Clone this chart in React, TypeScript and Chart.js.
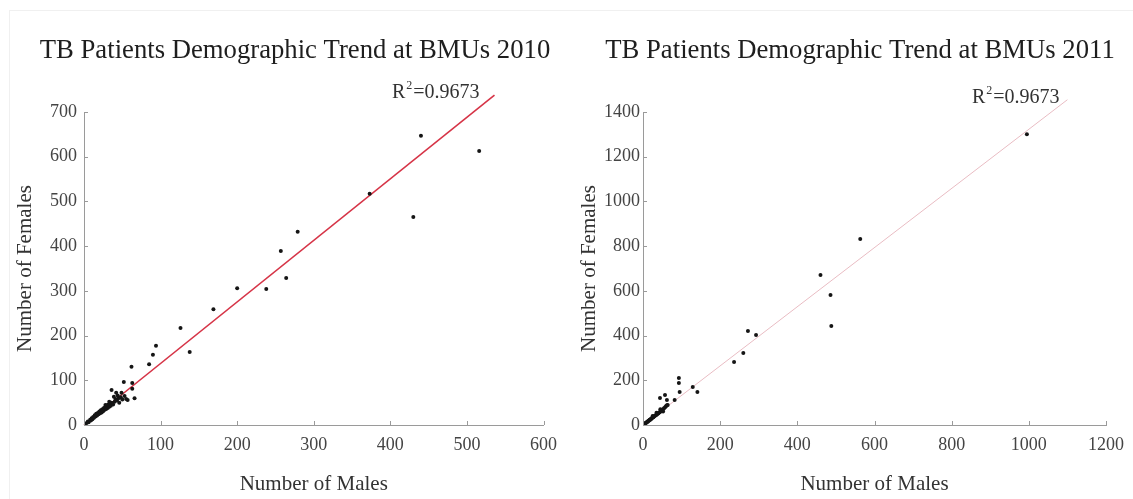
import React, { useEffect, useRef } from "react";
import { Chart, registerables } from "chart.js";

Chart.register(...registerables);

// ---------- 2010 data ----------
const males2010 = [
  516, 440, 430, 373, 279, 264, 257, 238, 200, 169, 138, 126, 94, 90, 85, 62, 52, 63, 63, 66, 57, 36, 42, 49,
  3, 5, 6, 8, 9, 10, 11, 12, 13, 14, 15, 16, 17, 18, 19, 20, 21, 22, 23, 24, 25, 26, 27, 28, 29, 30, 31, 32,
  33, 34, 35, 36, 38, 40, 41, 43, 45, 46, 48, 50, 53, 55, 28, 33, 39, 44,
];
const females2010 = [
  613, 647, 465, 517, 432, 329, 389, 304, 306, 259, 163, 217, 177, 157, 136, 130, 96, 94, 81, 60, 56, 78, 72, 72,
  4, 8, 6, 12, 10, 15, 13, 18, 16, 22, 19, 25, 21, 27, 24, 30, 26, 33, 28, 35, 31, 38, 34, 40, 36, 44, 38, 46,
  41, 48, 43, 50, 46, 52, 58, 55, 60, 50, 62, 57, 65, 58, 45, 52, 63, 66,
];
const trendX2010 = [0, 536];
const trendY2010 = [0, 738];
const xTicks2010 = [0, 100, 200, 300, 400, 500, 600];
const yTicks2010 = [0, 100, 200, 300, 400, 500, 600, 700];

// ---------- 2011 data ----------
const males2011 = [
  995, 563, 460, 486, 488, 272, 293, 260, 236, 141, 129, 93, 93, 95, 82, 57, 44, 62,
  2, 4, 5, 7, 8, 10, 11, 13, 14, 16, 17, 19, 20, 22, 23, 25, 27, 28, 30, 32, 34, 36, 38, 40, 42, 44, 46, 48,
  50, 53, 55, 58, 60, 62, 64, 35, 45, 25, 52,
];
const females2011 = [
  1301, 832, 671, 581, 443, 420, 402, 322, 282, 148, 170, 210, 188, 148, 112, 134, 121, 112,
  3, 5, 7, 9, 10, 12, 15, 16, 19, 20, 23, 24, 27, 28, 31, 33, 35, 38, 40, 42, 45, 47, 50, 53, 56, 58, 62, 65,
  68, 72, 76, 80, 85, 88, 90, 55, 70, 40, 60,
];
const trendX2011 = [0, 1100];
const trendY2011 = [0, 1455];
const xTicks2011 = [0, 200, 400, 600, 800, 1000, 1200];
const yTicks2011 = [0, 200, 400, 600, 800, 1000, 1200, 1400];

const R2_TEXT = "=0.9673";
const SERIF = "'Liberation Serif', 'Times New Roman', serif";

const decorPlugin = {
  id: "decor",
  afterDraw(chart: any, _args: any, opts: any) {
    const { ctx } = chart;
    const x = chart.scales.x;
    const y = chart.scales.y;
    ctx.save();
    // inward tick marks
    ctx.strokeStyle = "#9a9a9a";
    ctx.lineWidth = 1;
    x.ticks.forEach((t: any) => {
      const px = Math.round(x.getPixelForValue(t.value)) + 0.5;
      ctx.beginPath();
      ctx.moveTo(px, y.bottom);
      ctx.lineTo(px, y.bottom - 4);
      ctx.stroke();
    });
    y.ticks.forEach((t: any) => {
      const py = Math.round(y.getPixelForValue(t.value)) + 0.5;
      ctx.beginPath();
      ctx.moveTo(x.left, py);
      ctx.lineTo(x.left + 4, py);
      ctx.stroke();
    });
    // title
    ctx.fillStyle = "#1e1e1e";
    ctx.font = `26.7px ${SERIF}`;
    ctx.textAlign = "center";
    ctx.textBaseline = "alphabetic";
    ctx.fillText(opts.title, opts.titleX, opts.titleY);
    // R^2 label
    ctx.fillStyle = "#333";
    ctx.textAlign = "left";
    ctx.font = `20px ${SERIF}`;
    ctx.fillText("R", opts.rx, opts.ry);
    const wR = ctx.measureText("R").width;
    ctx.font = `12px ${SERIF}`;
    ctx.fillText("2", opts.rx + wR + 1, opts.ry - 9);
    const w2 = ctx.measureText("2").width;
    ctx.font = `20px ${SERIF}`;
    ctx.fillText(R2_TEXT, opts.rx + wR + w2 + 2, opts.ry);
    ctx.restore();
  },
};

type Cfg = {
  width: number;
  males: number[];
  females: number[];
  trendX: number[];
  trendY: number[];
  xTicks: number[];
  yTicks: number[];
  yAxisWidth: number;
  padRight: number;
  yLabelPad: number;
  yTitlePad: number;
  lineColor: string;
  lineWidth: number;
  title: string;
  titleX: number;
  rx: number;
  ry: number;
};

function makeConfig(c: Cfg): any {
  const tickFont = { family: SERIF, size: 18 };
  const titleFont = { family: SERIF, size: 21 };
  return {
    type: "scatter",
    data: {
      datasets: [
        {
          data: c.males.map((m, i) => ({ x: m, y: c.females[i] })),
          backgroundColor: "#151515",
          borderColor: "#151515",
          pointRadius: 2,
          pointBorderWidth: 0,
        },
        {
          data: c.trendX.map((v, i) => ({ x: v, y: c.trendY[i] })),
          showLine: true,
          pointRadius: 0,
          borderColor: c.lineColor,
          borderWidth: c.lineWidth,
          clip: false,
        },
      ],
    },
    options: {
      animation: false,
      responsive: false,
      events: [],
      layout: { padding: { left: 0, right: c.padRight, top: 112, bottom: 0 } },
      plugins: {
        legend: { display: false },
        tooltip: { enabled: false },
        decor: { title: c.title, titleX: c.titleX, titleY: 58, rx: c.rx, ry: c.ry },
      },
      scales: {
        x: {
          type: "linear",
          min: c.xTicks[0],
          max: c.xTicks[c.xTicks.length - 1],
          grid: { display: false, drawTicks: false },
          border: { display: true, color: "#9a9a9a", width: 1 },
          ticks: { padding: 9, color: "#444", font: tickFont, callback: (v: any) => String(v) },
          title: {
            display: true,
            text: "Number of Males",
            color: "#333",
            font: titleFont,
            padding: { top: 0, bottom: 2 },
          },
          afterBuildTicks: (a: any) => {
            a.ticks = c.xTicks.map((v) => ({ value: v }));
          },
          afterFit: (a: any) => {
            a.height = 74;
          },
        },
        y: {
          type: "linear",
          min: c.yTicks[0],
          max: c.yTicks[c.yTicks.length - 1],
          grid: { display: false, drawTicks: false },
          border: { display: true, color: "#9a9a9a", width: 1 },
          ticks: { padding: c.yLabelPad, color: "#444", font: tickFont, callback: (v: any) => String(v) },
          title: {
            display: true,
            text: "Number of Females",
            color: "#333",
            font: titleFont,
            padding: { top: c.yTitlePad, bottom: 0 },
          },
          afterBuildTicks: (a: any) => {
            a.ticks = c.yTicks.map((v) => ({ value: v }));
          },
          afterFit: (a: any) => {
            a.width = c.yAxisWidth;
          },
        },
      },
    },
    plugins: [decorPlugin],
  };
}

function ScatterPanel({ cfg, left }: { cfg: Cfg; left: number }) {
  const ref = useRef<HTMLCanvasElement | null>(null);
  useEffect(() => {
    if (!ref.current) return;
    const chart = new Chart(ref.current, makeConfig(cfg));
    return () => chart.destroy();
  }, []);
  return (
    <canvas
      ref={ref}
      width={cfg.width}
      height={499}
      style={{ position: "absolute", left, top: 0, width: cfg.width, height: 499 }}
    />
  );
}

const cfg2010: Cfg = {
  width: 566,
  males: males2010,
  females: females2010,
  trendX: trendX2010,
  trendY: trendY2010,
  xTicks: xTicks2010,
  yTicks: yTicks2010,
  yAxisWidth: 84,
  padRight: 16,
  yLabelPad: 7,
  yTitlePad: 13,
  lineColor: "#d63447",
  lineWidth: 1.6,
  title: "TB Patients Demographic Trend at BMUs 2010",
  titleX: 295,
  rx: 392,
  ry: 98,
};

const cfg2011: Cfg = {
  width: 567,
  males: males2011,
  females: females2011,
  trendX: trendX2011,
  trendY: trendY2011,
  xTicks: xTicks2011,
  yTicks: yTicks2011,
  yAxisWidth: 77,
  padRight: 23,
  yLabelPad: 3,
  yTitlePad: 11,
  lineColor: "#e9bcc3",
  lineWidth: 1,
  title: "TB Patients Demographic Trend at BMUs 2011",
  titleX: 294,
  rx: 406,
  ry: 103,
};

export default function App() {
  return (
    <div
      style={{
        position: "fixed",
        left: 0,
        top: 0,
        width: 1133,
        height: 499,
        background: "#fff",
        overflow: "hidden",
      }}
    >
      <div
        style={{
          position: "absolute",
          left: 9,
          top: 10,
          right: 0,
          bottom: 0,
          borderLeft: "1px solid #f0f0f0",
          borderTop: "1px solid #f0f0f0",
        }}
      />
      <ScatterPanel cfg={cfg2010} left={0} />
      <ScatterPanel cfg={cfg2011} left={566} />
    </div>
  );
}
